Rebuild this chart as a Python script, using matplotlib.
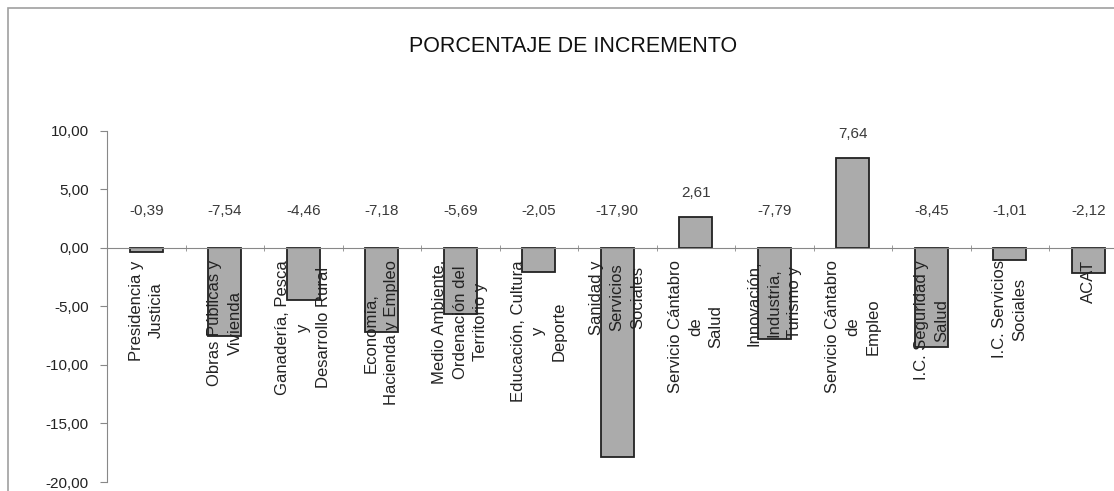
import matplotlib
matplotlib.use('Agg')
import matplotlib.pyplot as plt
from matplotlib.patches import Rectangle
import numpy as np

plt.rcParams['font.family'] = ['Liberation Sans', 'DejaVu Sans']

categories = ['Presidencia y\nJusticia',
              'Obras Públicas y\nVivienda',
              'Ganadería, Pesca\ny\nDesarrollo Rural',
              'Economía,\nHacienda y Empleo',
              'Medio Ambiente,\nOrdenación del\nTerritorio y',
              'Educación, Cultura\ny\nDeporte',
              'Sanidad y\nServicios\nSociales',
              'Servicio Cántabro\nde\nSalud',
              'Innovación,\nIndustria,\nTurismo y',
              'Servicio Cántabro\nde\nEmpleo',
              'I.C. Seguridad y\nSalud',
              'I.C. Servicios\nSociales',
              'ACAT']
values = [-0.39, -7.54, -4.46, -7.18, -5.69, -2.05, -17.90, 2.61, -7.79, 7.64, -8.45, -1.01, -2.12]
yticks = [10, 5, 0, -5, -10, -15, -20]

fig = plt.figure(figsize=(11.14, 4.91), dpi=100)
# chart area border (cut at the right and bottom like the scan)
fig.patches.append(Rectangle((8 / 1114, -0.1), 1.2, 1 - 8 / 491 + 0.1,
                             transform=fig.transFigure, fill=False,
                             edgecolor='#a0a0a0', linewidth=1.2))

ax = fig.add_axes([107 / 1114, 1 - 482 / 491, (1127.5 - 107) / 1114, (482 - 130.6) / 491])

x = np.arange(len(values))
ax.bar(x, values, width=0.42, color='#ababab', edgecolor='#222222', linewidth=1.3, zorder=1)

ax.set_xlim(-0.5, len(values) - 0.5)
ax.set_ylim(-20, 10)

for xi, v in zip(x, values):
    ypos = v + 2.1 if v > 0 else 3.1
    ax.text(xi, ypos, f'{v:.2f}'.replace('.', ','), ha='center', va='center',
            fontsize=11, color='#3a3a3a')

ax.set_yticks(yticks)
ax.set_yticklabels([f'{t:.2f}'.replace('.', ',') for t in yticks], fontsize=11, color='#222222')
ax.tick_params(axis='y', direction='out', length=5, color='#888888', pad=8)

ax.spines['top'].set_visible(False)
ax.spines['right'].set_visible(False)
ax.spines['bottom'].set_position(('data', 0))
ax.spines['bottom'].set_color('#888888')
ax.spines['left'].set_color('#888888')

ax.set_xticks(x)
ax.set_xticklabels(categories, rotation=90, ha='center', va='top', fontsize=12,
                   linespacing=1.45, multialignment='center', color='#222222')
ax.tick_params(axis='x', which='major', length=0, pad=9)
ax.set_xticks(np.arange(len(values) + 1) - 0.5, minor=True)
ax.tick_params(axis='x', which='minor', direction='inout', length=5, color='#888888')

fig.text(573 / 1114, 1 - 46 / 491, 'PORCENTAJE DE INCREMENTO', ha='center', va='center',
         fontsize=15.5, color='#111111')

plt.savefig('out.png', dpi=100)
plt.close()
